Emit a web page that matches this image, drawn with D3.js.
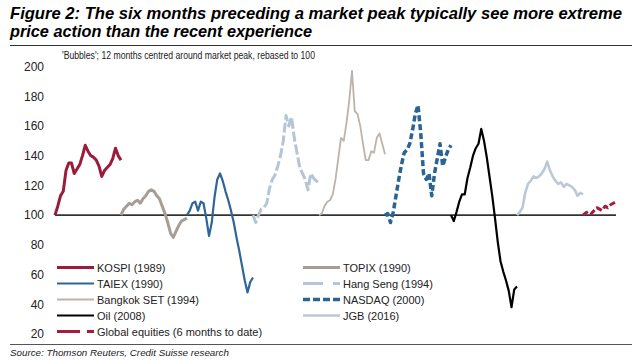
<!DOCTYPE html>
<html><head><meta charset="utf-8">
<script src="https://cdn.jsdelivr.net/npm/d3@7"></script>
<style>
body{margin:0;background:#fff;}
svg text{font-family:"Liberation Sans Narrow","Arial Narrow","Liberation Sans",Arial,sans-serif;fill:#222;}
</style></head><body>
<svg id="c" width="640" height="360"></svg>
<script>
// ---- data ----
const yTicks = [20, 40, 60, 80, 100, 120, 140, 160, 180, 200];
const kospi    = [100,106,113,116,130,135,135,128,131,134,140,147,143,140,139,137,133,126,130,132,134,138,145,140,137];
const topix    = [100,104,106,108,107,109,110,108,111,113,116,117,116,113,111,106,101,95,88,85,89,93,96,97,98];
const taiex    = [100,103,108,109,103,109,108,98,86,95,112,124,128,123,116,110,103,95,85,76,66,56,48,55,58];
const hangSeng = [100,95,100,104,105,108,118,124,127,133,140,150,167,160,166,152,142,132,128,124,117,128,125,123,122];
const bangkok  = [100,101,106,109,110,114,124,138,152,150,162,177,197,170,168,160,148,137,137,143,142,152,155,148,141];
const nasdaq   = [100,101,95,102,113,124,134,142,144,148,157,168,174,155,128,124,128,113,128,138,148,133,139,144,147];
const oil      = [100,96,102,109,114,114,125,132,140,145,148,158,150,139,126,113,98,82,69,62,56,49,38,50,52];
const jgb      = [100,102,105,115,121,123,126,125,126,128,131,136,130,126,123,121,122,119,121,120,119,117,113,115,114];
const globalEq = [100,101.5,102.5,101,103,105,104,103,106,105,107,108,109];
const seriesNames = ["KOSPI (1989)","TOPIX (1990)","TAIEX (1990)","Hang Seng (1994)","Bangkok SET (1994)",
                     "NASDAQ (2000)","Oil (2008)","JGB (2016)","Global equities (6 months to date)"];
const seriesValues = [kospi, topix, taiex, hangSeng, bangkok, nasdaq, oil, jgb, globalEq];
const monthsPerStep = 0.5;   // values are read every half month
const windowMonths = 12;     // each episode spans 12 months
const titleLines = ["Figure 2: The six months preceding a market peak typically see more extreme",
                    "price action than the recent experience"];
const subtitle = "'Bubbles'; 12 months centred around market peak, rebased to 100";
const source = "Source: Thomson Reuters, Credit Suisse research";

// ---- styles ----
const styles = [
  {color:"#9B1B3A", width:3,   dash:null,   legDash:null},
  {color:"#A69D96", width:3,   dash:null,   legDash:null},
  {color:"#2F6598", width:2.2, dash:null,   legDash:null},
  {color:"#B3C5D7", width:3,   dash:"10,3", legDash:"20,10"},
  {color:"#BCB3AB", width:1.8, dash:null,   legDash:null},
  {color:"#2A6496", width:3.5, dash:"6,3",  legDash:"7,3"},
  {color:"#000000", width:2.2, dash:null,   legDash:null},
  {color:"#BDC8D5", width:2.6, dash:null,   legDash:null},
  {color:"#A51C3F", width:3,   dash:"6,3",  legDash:"23,7"}
];

const svg = d3.select("#c");
const totalMonths = windowMonths * (seriesValues.length - 1) + (globalEq.length - 1) * monthsPerStep;
const x = d3.scaleLinear().domain([0, totalMonths]).range([55, 616]);
const y = d3.scaleLinear().domain([20, 200]).range([334, 66.5]);

// title
[[titleLines[0], 19, 612], [titleLines[1], 37, 302]].forEach(([t, yy, len]) => {
  svg.append("text").attr("x", 10).attr("y", yy)
    .attr("textLength", len).attr("lengthAdjust", "spacingAndGlyphs")
    .style("font-family", "'Liberation Sans',Arial,sans-serif")
    .style("font-weight", "bold").style("font-style", "italic").style("font-size", "17px").style("fill", "#000")
    .text(t);
});
svg.append("line").attr("x1", 10).attr("x2", 632).attr("y1", 45.5).attr("y2", 45.5)
  .attr("stroke", "#333").attr("stroke-width", 1.2);

// subtitle
svg.append("text").attr("x", 62).attr("y", 59).style("font-size", "10px")
  .attr("textLength", 253).attr("lengthAdjust", "spacingAndGlyphs").text(subtitle);

// y axis labels (no axis line)
const yAxis = d3.axisLeft(y).tickValues(yTicks).tickSize(0).tickPadding(0);
const gy = svg.append("g").attr("transform", "translate(44,0)").call(yAxis);
gy.select(".domain").remove();
gy.selectAll("text").style("font-size", "12px").style("fill", "#222")
  .style("font-family", "'Liberation Sans Narrow','Arial Narrow','Liberation Sans',Arial,sans-serif");

// baseline at 100
svg.append("line").attr("x1", x(0)).attr("x2", x(totalMonths))
  .attr("y1", y(100)).attr("y2", y(100)).attr("stroke", "#333").attr("stroke-width", 1.6);

// series
seriesValues.forEach((vals, k) => {
  const start = k * windowMonths;
  const line = d3.line()
    .x((d, i) => x(start + i * monthsPerStep))
    .y(d => y(d));
  const s = styles[k];
  svg.append("path").datum(vals).attr("d", line)
    .attr("fill", "none").attr("stroke", s.color).attr("stroke-width", s.width)
    .attr("stroke-linejoin", "round")
    .attr("stroke-dasharray", s.dash);
});

// legend
const legX = [57, 303], legLen = 37, legY0 = 267.5, legDy = 16;
seriesNames.forEach((name, k) => {
  const col = k % 2, row = Math.floor(k / 2);
  const s = styles[k];
  const yy = legY0 + row * legDy;
  svg.append("line").attr("x1", legX[col]).attr("x2", legX[col] + legLen)
    .attr("y1", yy).attr("y2", yy).attr("stroke", s.color)
    .attr("stroke-width", Math.max(s.width, 2.2)).attr("stroke-dasharray", s.legDash);
  svg.append("text").attr("x", legX[col] + legLen + 3).attr("y", yy + 4)
    .style("font-size", "11px").text(name);
});

// bottom rule and source
svg.append("line").attr("x1", 10).attr("x2", 632).attr("y1", 344.5).attr("y2", 344.5)
  .attr("stroke", "#555").attr("stroke-width", 1);
svg.append("text").attr("x", 10).attr("y", 356).style("font-size", "9.8px").style("font-style", "italic")
  .text(source);
</script>
</body></html>
